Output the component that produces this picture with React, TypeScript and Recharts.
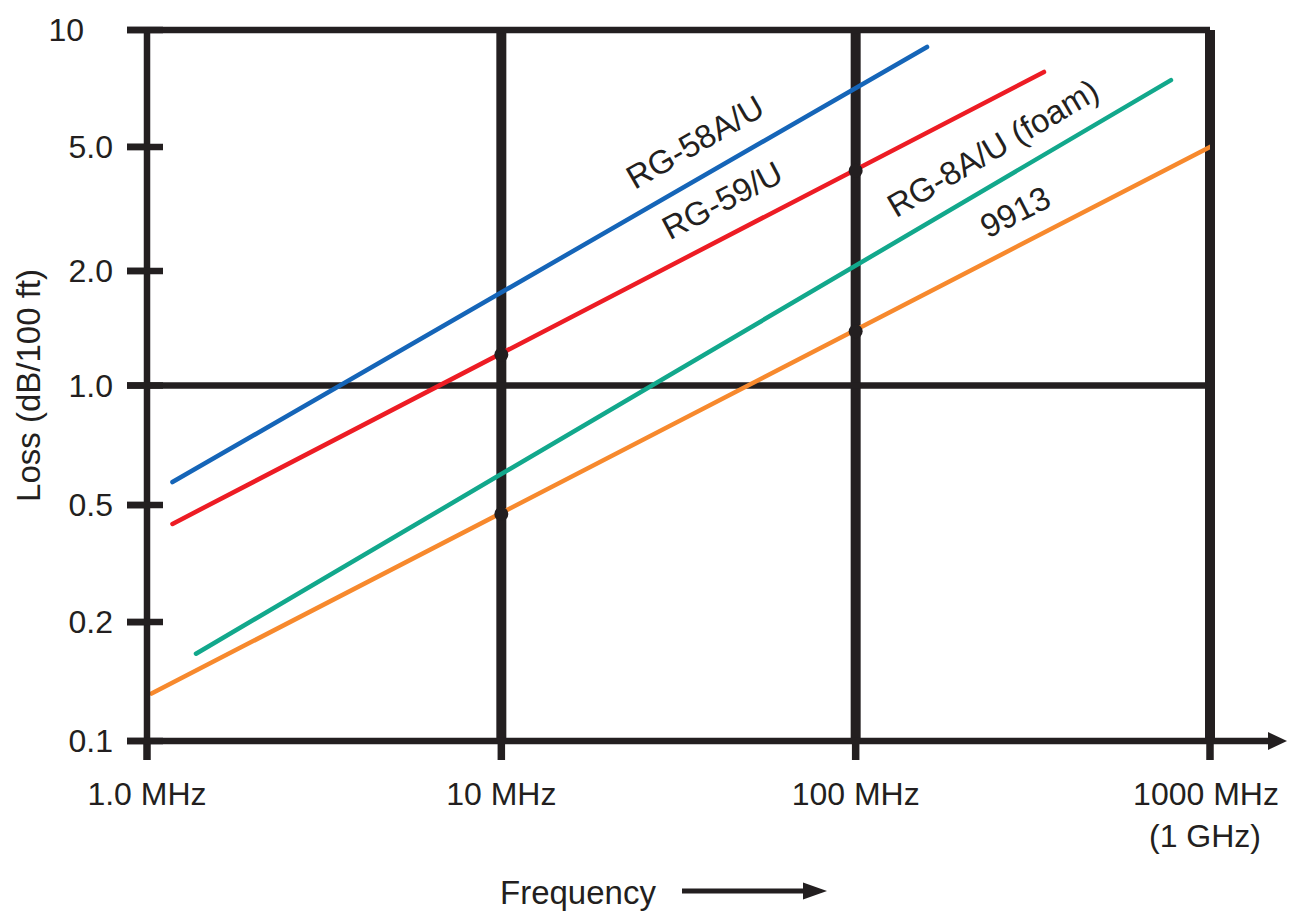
import React from "react";
import {
  ComposedChart, Line, Scatter, XAxis, YAxis, CartesianGrid, Label,
} from "recharts";

const FONT = "'Liberation Sans', Arial, sans-serif";
const INK = "#231f20";

// cable loss curves are straight on log-log paper; endpoints (MHz, dB/100 ft)
const RG58_MHZ = [1.18, 159];
const RG58_LOSS = [0.535, 8.96];
const RG59_MHZ = [1.18, 340];
const RG59_LOSS = [0.408, 7.62];
const RG8_MHZ = [1.375, 776];
const RG8_LOSS = [0.176, 7.23];
const C9913_MHZ = [1.03, 1000];
const C9913_LOSS = [0.136, 4.69];

// black marker dots on RG-59/U and 9913 at 10 and 100 MHz
const MARKER_MHZ = [10, 100, 10, 100];
const MARKER_LOSS = [1.22, 4.02, 0.435, 1.42];

// in-plot cable names
const NAME_TEXT = ["RG-58A/U", "RG-59/U", "RG-8A/U (foam)", "9913"];
const NAME_MHZ = [35.2, 42.0, 244, 282];
const NAME_LOSS = [4.84, 3.32, 4.66, 3.08];

const X_TICKS = [1, 10, 100, 1000];
const X_TICK_LABELS = ["1.0 MHz", "10 MHz", "100 MHz", "1000 MHz"];
const X_TICK_SUB = ["", "", "", "(1 GHz)"];
// the original sheet puts its in-between ticks at roughly 1/3 and 2/3 of a decade,
// not at the exact log positions, so the tick values follow the drawing
const Y_TICKS = [0.1, 0.216, 0.461, 1, 2.1, 4.69, 10];
const Y_TICK_LABELS = ["0.1", "0.2", "0.5", "1.0", "2.0", "5.0", "10"];

const toPoints = (mhz: number[], loss: number[]) => mhz.map((f, i) => ({ f, loss: loss[i] }));

const SERIES = [
  { key: "rg58", color: "#1565b8", data: toPoints(RG58_MHZ, RG58_LOSS) },
  { key: "rg59", color: "#ed1c24", data: toPoints(RG59_MHZ, RG59_LOSS) },
  { key: "rg8", color: "#12a88c", data: toPoints(RG8_MHZ, RG8_LOSS) },
  { key: "9913", color: "#f7892d", data: toPoints(C9913_MHZ, C9913_LOSS) },
];
const markers = toPoints(MARKER_MHZ, MARKER_LOSS);
const names = NAME_TEXT.map((text, i) => ({ f: NAME_MHZ[i], loss: NAME_LOSS[i], text }));
const NAME_ANGLE: Record<string, number> = {
  "RG-58A/U": -30, "RG-59/U": -27.5, "RG-8A/U (foam)": -30.5, "9913": -27,
};

const textStyle = { fontFamily: FONT, fontSize: 32, fill: INK };

function YTick({ x, y, payload }: any) {
  const i = Y_TICKS.findIndex((v) => Math.abs(v - payload.value) < 1e-9);
  const last = i === Y_TICKS.length - 1;
  return (
    <g>
      <line x1={x + 14} x2={x + 50} y1={y} y2={y} stroke={INK} strokeWidth={6.5} />
      <text x={last ? x - 29 : x} y={y} textAnchor="end" dominantBaseline="central" {...textStyle}>
        {Y_TICK_LABELS[i]}
      </text>
    </g>
  );
}

function XTick({ x, y, payload }: any) {
  const i = X_TICKS.findIndex((v) => Math.abs(v - payload.value) < 1e-9);
  const axisY = y - 19;
  const last = i === X_TICKS.length - 1;
  return (
    <g>
      <text x={x - 4 * (last ? 1 : 0)} y={y + 45} textAnchor="middle" {...textStyle}>
        {X_TICK_LABELS[i]}
      </text>
      {X_TICK_SUB[i] && (
        <text x={x - 5} y={y + 87} textAnchor="middle" {...textStyle}>{X_TICK_SUB[i]}</text>
      )}
      {last && (
        <g>
          <line x1={x} x2={x + 62} y1={axisY} y2={axisY} stroke={INK} strokeWidth={6.5} />
          <polygon points={`${x + 58},${axisY - 9} ${x + 77},${axisY} ${x + 58},${axisY + 9}`} fill={INK} />
        </g>
      )}
    </g>
  );
}

function YTitle({ viewBox }: any) {
  const cx = viewBox.x + 1;
  const cy = viewBox.y + viewBox.height / 2;
  return (
    <text x={cx} y={cy} transform={`rotate(-90, ${cx}, ${cy})`} textAnchor="middle"
      dominantBaseline="central" fontFamily={FONT} fontSize={33} fill={INK}>
      Loss (dB/100 ft)
    </text>
  );
}

function XTitle({ viewBox }: any) {
  const x0 = viewBox.x + 353;
  const base = viewBox.y + 163;
  const ay = base - 13;
  return (
    <g>
      <text x={x0} y={base} fontFamily={FONT} fontSize={33} fill={INK}>Frequency</text>
      <line x1={x0 + 182} x2={x0 + 310} y1={ay} y2={ay} stroke={INK} strokeWidth={5} />
      <polygon points={`${x0 + 303},${ay - 8.5} ${x0 + 327},${ay} ${x0 + 303},${ay + 8.5}`} fill={INK} />
    </g>
  );
}

function Dot({ cx, cy }: any) {
  return <circle cx={cx} cy={cy} r={7} fill={INK} />;
}

function CableName({ cx, cy, payload }: any) {
  return (
    <text x={cx} y={cy} transform={`rotate(${NAME_ANGLE[payload.text]}, ${cx}, ${cy})`}
      textAnchor="middle" dominantBaseline="central" fontFamily={FONT} fontSize={33} fill={INK}>
      {payload.text}
    </text>
  );
}

export default function App() {
  return (
    <div style={{ position: "absolute", left: 0, top: 0, background: "#fff" }}>
      <ComposedChart width={1289} height={911} margin={{ top: 30, right: 79, bottom: 110, left: 27 }}>
        <CartesianGrid stroke={INK} strokeWidth={10} horizontal={false} verticalValues={[10, 100, 1000]} />
        <CartesianGrid stroke={INK} strokeWidth={6.5} vertical={false} horizontalValues={[1, 10]} />
        <XAxis
          dataKey="f" type="number" scale="log" domain={[1, 1000]} ticks={X_TICKS} interval={0}
          allowDataOverflow height={60} tickSize={19} tickMargin={0}
          axisLine={{ stroke: INK, strokeWidth: 6.5 }} tickLine={{ stroke: INK, strokeWidth: 7.5 }}
          tick={<XTick />}
        >
          <Label content={<XTitle />} />
        </XAxis>
        <YAxis
          dataKey="loss" type="number" scale="log" domain={[0.1, 10]} ticks={Y_TICKS} interval={0}
          allowDataOverflow width={120} tickSize={20} tickMargin={14}
          axisLine={{ stroke: INK, strokeWidth: 6.5 }} tickLine={{ stroke: INK, strokeWidth: 6.5 }}
          tick={<YTick />}
        >
          <Label content={<YTitle />} />
        </YAxis>
        {SERIES.map((s) => (
          <Line key={s.key} data={s.data} dataKey="loss" stroke={s.color} strokeWidth={4.5}
            strokeLinecap="round" dot={false} activeDot={false} isAnimationActive={false} />
        ))}
        <Scatter data={markers} dataKey="loss" shape={<Dot />} isAnimationActive={false} />
        <Scatter data={names} dataKey="loss" shape={<CableName />} isAnimationActive={false} />
      </ComposedChart>
    </div>
  );
}
